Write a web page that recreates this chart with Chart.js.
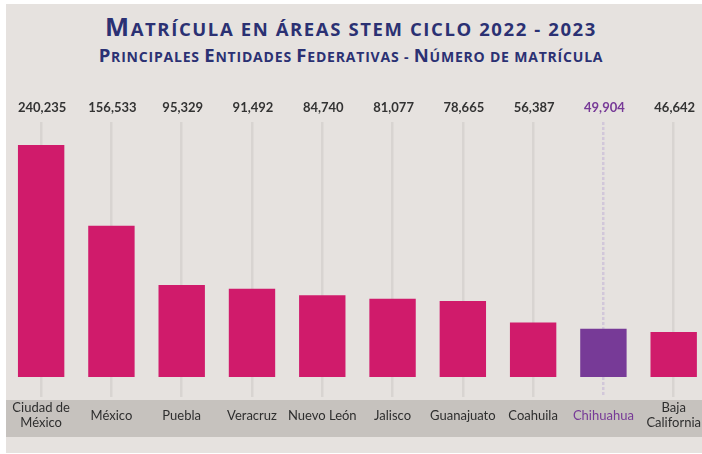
<!DOCTYPE html>
<html><head><meta charset="utf-8">
<script src="https://cdn.jsdelivr.net/npm/chart.js@4.4.1/dist/chart.umd.min.js"></script>
<style>
html,body{margin:0;padding:0;background:#fff;overflow:hidden;width:702px;height:454px;position:relative}
#panel{position:absolute;left:6px;top:4px;width:696px;height:449px;background:#E6E2DF}
.t{position:absolute;left:0;width:702px;text-align:center;color:#2B3173;font-family:"Open Sans",Lato,sans-serif;font-weight:bold;white-space:nowrap}
#t1{top:12px;font-size:18.5px;line-height:28px;letter-spacing:1.6px}
#t1 .b{font-size:25.5px}
#t2{top:44px;font-size:14px;line-height:22px;letter-spacing:0.8px}
#t2 .b{font-size:18.5px}
#wrap{position:absolute;left:0;top:0;width:712px;height:454px}
</style></head>
<body>
<div id="panel"></div>
<div class="t" id="t1"><span class="b">M</span>ATRÍCULA EN ÁREAS STEM CICLO 2022 - 2023</div>
<div class="t" id="t2"><span class="b">P</span>RINCIPALES <span class="b">E</span>NTIDADES <span class="b">F</span>EDERATIVAS - <span class="b">N</span>ÚMERO DE MATRÍCULA</div>
<div id="wrap"><canvas id="c" width="712" height="454"></canvas></div>
<script>
const categories = [["Ciudad de","México"],"México","Puebla","Veracruz","Nuevo León","Jalisco","Guanajuato","Coahuila","Chihuahua",["Baja","California"]];
const matricula = [240235,156533,95329,91492,84740,81077,78665,56387,49904,46642];
const valueLabels = ["240,235","156,533","95,329","91,492","84,740","81,077","78,665","56,387","49,904","46,642"];
const highlightIndex = 8;

const PINK = '#D01B6B', PURPLE = '#773A97', TEXT = '#2E2E2E';

const bandPlugin = {
  id: 'band',
  beforeDraw(chart) {
    const {ctx, chartArea} = chart;
    ctx.save();
    ctx.fillStyle = '#C6C2BE';
    ctx.fillRect(6, chartArea.bottom + 3, 696, 37);
    ctx.restore();
  }
};
const valuePlugin = {
  id: 'values',
  afterDatasetsDraw(chart) {
    const {ctx, chartArea} = chart;
    const meta = chart.getDatasetMeta(0);
    ctx.save();
    ctx.font = 'bold 13px Lato, "Open Sans", sans-serif';
    ctx.textAlign = 'center';
    ctx.textBaseline = 'middle';
    meta.data.forEach((bar, i) => {
      ctx.fillStyle = i === highlightIndex ? PURPLE : '#333333';
      ctx.fillText(valueLabels[i], bar.x + 1, chartArea.top - 14);
    });
    ctx.restore();
  }
};

new Chart(document.getElementById('c'), {
  type: 'bar',
  data: {
    labels: categories,
    datasets: [{
      data: matricula,
      backgroundColor: matricula.map((v, i) => i === highlightIndex ? PURPLE : PINK),
      barPercentage: 0.66,
      categoryPercentage: 1
    }]
  },
  options: {
    responsive: false,
    animation: false,
    events: [],
    layout: {padding: {top: 122, left: 6, right: 0, bottom: 0}},
    plugins: {legend: {display: false}, tooltip: {enabled: false}},
    scales: {
      y: {display: false, min: -20700, max: 264000},
      x: {
        afterFit(scale) { scale.height = 57; },
        border: {display: false, dash: ctx => ctx.index === highlightIndex ? [3, 2] : []},
        grid: {offset: false, drawTicks: false, lineWidth: 2.5,
          color: ctx => ctx.index === highlightIndex ? '#D2C7DA' : '#D8D4D1'},
        ticks: {
          padding: 11,
          crossAlign: 'center',
          maxRotation: 0,
          autoSkip: false,
          font: {family: 'Lato, "Open Sans", sans-serif', size: 13, lineHeight: 1.15},
          color: ctx => ctx.index === highlightIndex ? PURPLE : TEXT
        }
      }
    }
  },
  plugins: [bandPlugin, valuePlugin]
});
</script>
</body></html>
